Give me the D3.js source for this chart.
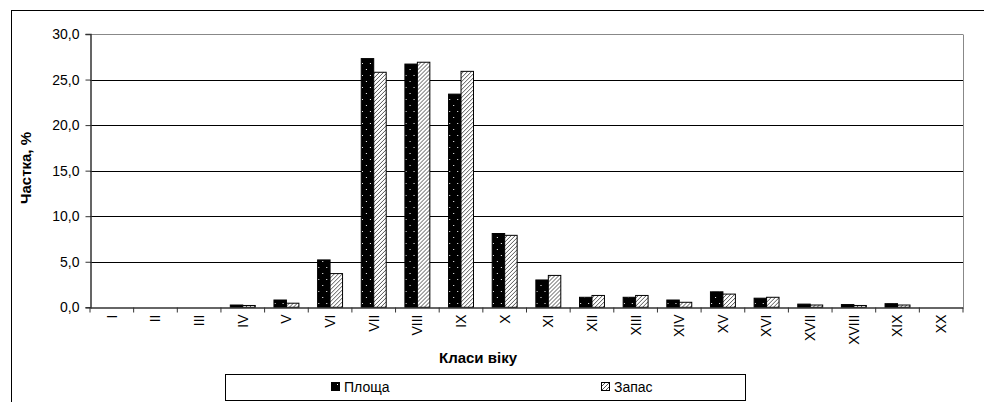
<!DOCTYPE html>
<meta charset="utf-8">
<style>
body { margin: 0; background: #fff; }
text { font-family: "Liberation Sans", Arial, sans-serif; fill: #000; }
.tick text { font-size: 14px; }
.axisTitle { font-size: 15px; font-weight: bold; }
.legendLabel { font-size: 14px; }
</style>
<body>
<script src="https://d3js.org/d3.v7.min.js"></script>
<script>

const classes = ["I", "II", "III", "IV", "V", "VI", "VII", "VIII", "IX", "X",
                 "XI", "XII", "XIII", "XIV", "XV", "XVI", "XVII", "XVIII", "XIX", "XX"];
const area  = [0, 0, 0, 0.25, 0.8, 5.2, 27.3, 26.7, 23.4, 8.1, 3.0, 1.1, 1.1, 0.8, 1.7, 1.0, 0.35, 0.3, 0.4, 0];
const stock = [0, 0, 0, 0.2, 0.45, 3.7, 25.8, 26.9, 25.9, 7.9, 3.5, 1.3, 1.3, 0.55, 1.45, 1.1, 0.25, 0.2, 0.25, 0];
const seriesNames = ["Площа", "Запас"];
const yTicks = [0, 5, 10, 15, 20, 25, 30];

let width = 984,
    height = 402,
    margin = {left: 90, top: 34, right: 963, bottom: 307.3};

let svg = d3.select("body").append("svg")
            .attr("width", width)
            .attr("height", height);

let defs = svg.append("defs");

// black with white dots
let dots = defs.append("pattern")
            .attr("id", "dots")
            .attr("patternUnits", "userSpaceOnUse")
            .attr("width", 8)
            .attr("height", 12);
dots.append("rect").attr("width", 8).attr("height", 12).attr("fill", "#000");
dots.append("rect").attr("x", 2).attr("y", 3).attr("width", 1).attr("height", 1).attr("fill", "#fff");
dots.append("rect").attr("x", 6).attr("y", 9).attr("width", 1).attr("height", 1).attr("fill", "#fff");

// white with diagonal lines
let hatch = defs.append("pattern")
            .attr("id", "hatch")
            .attr("patternUnits", "userSpaceOnUse")
            .attr("width", 4)
            .attr("height", 4);
hatch.append("rect").attr("width", 4).attr("height", 4).attr("fill", "#fff");
hatch.append("path")
        .attr("d", "M-1,1 l2,-2 M0,4 l4,-4 M3,5 l2,-2")
        .attr("stroke", "#555")
        .attr("stroke-width", 1);

const fills = ["url(#dots)", "url(#hatch)"];

// outer frame
svg.append("rect")
    .attr("x", 11.5).attr("y", 10.5)
    .attr("width", 1000).attr("height", 400)
    .attr("fill", "#fff")
    .attr("stroke", "#000");

let x = d3.scaleBand()
            .domain(classes)
            .range([margin.left, margin.right])
            .paddingInner(0)
            .paddingOuter(0);

let x1 = d3.scaleBand()
            .domain(d3.range(seriesNames.length))
            .range([0, x.bandwidth()])
            .paddingInner(0)
            .paddingOuter(0.75);

let y = d3.scaleLinear()
            .domain([0, 30])
            .range([margin.bottom, margin.top]);

// gridlines
svg.append("g")
    .selectAll("line")
    .data(yTicks.slice(1))
    .join("line")
        .attr("x1", margin.left).attr("x2", margin.right)
        .attr("y1", d => Math.round(y(d)) + 0.5)
        .attr("y2", d => Math.round(y(d)) + 0.5)
        .attr("stroke", d => d == 30 ? "#888" : "#000")
        .attr("stroke-width", 1);

// right border of plot
svg.append("line")
    .attr("x1", margin.right + 0.5).attr("x2", margin.right + 0.5)
    .attr("y1", Math.round(y(30)) + 0.5).attr("y2", margin.bottom)
    .attr("stroke", "#888");

// bars
let groups = svg.append("g")
    .selectAll("g")
    .data(classes.map((c, i) => ({c: c, v: [area[i], stock[i]]})))
    .join("g")
        .attr("transform", d => `translate(${x(d.c)},0)`);

groups.selectAll("rect")
    .data(d => d.v.map((v, k) => ({v: v, k: k})).filter(e => e.v > 0))
    .join("rect")
        .attr("x", d => x1(d.k))
        .attr("y", d => y(d.v))
        .attr("width", x1.bandwidth())
        .attr("height", d => y(0) - y(d.v))
        .attr("fill", d => fills[d.k])
        .attr("stroke", "#000")
        .attr("stroke-width", 1);

// y axis
let yAxis = svg.append("g")
    .attr("transform", `translate(${margin.left + 0.5},0)`)
    .call(d3.axisLeft(y).tickValues(yTicks).tickSize(5).tickPadding(6)
            .tickFormat(d => d3.format(".1f")(d).replace(".", ",")));
yAxis.select(".domain").attr("stroke", "#333").attr("stroke-width", 1.5);
yAxis.selectAll(".tick line").attr("stroke", "#333");

// x axis
let xAxis = svg.append("g")
    .attr("transform", `translate(0,${Math.round(y(0)) + 0.5})`)
    .call(d3.axisBottom(x).tickSize(0).tickSizeOuter(0));
xAxis.select(".domain").attr("stroke", "#333").attr("stroke-width", 1.5);
xAxis.selectAll(".tick text")
    .attr("transform", "rotate(-90)")
    .attr("text-anchor", "end")
    .attr("x", -7)
    .attr("y", 0)
    .attr("dy", "0.35em");

// category separators on x axis
xAxis.append("g")
    .selectAll("line")
    .data(classes.concat(["end"]))
    .join("line")
        .attr("x1", (d, i) => margin.left + i * x.bandwidth())
        .attr("x2", (d, i) => margin.left + i * x.bandwidth())
        .attr("y1", 0).attr("y2", 5)
        .attr("stroke", "#333");

// axis titles
svg.append("text")
    .attr("class", "axisTitle")
    .attr("x", 478)
    .attr("y", 358)
    .attr("dy", "0.35em")
    .attr("text-anchor", "middle")
    .text("Класи віку");

svg.append("text")
    .attr("class", "axisTitle")
    .attr("transform", "translate(26,168) rotate(-90)")
    .attr("text-anchor", "middle")
    .attr("dy", "0.35em")
    .text("Частка, %");

// legend
let legend_g = svg.append("g");
legend_g.append("rect")
    .attr("x", 225.5).attr("y", 374.5)
    .attr("width", 520).attr("height", 26)
    .attr("fill", "#fff")
    .attr("stroke", "#000");

const legendX = [331, 601];
let li = legend_g.selectAll("g")
    .data(seriesNames)
    .join("g")
        .attr("transform", (d, i) => `translate(${legendX[i]},387)`);

li.append("rect")
    .attr("x", 0.5).attr("y", -4.5)
    .attr("width", 8).attr("height", 8)
    .attr("fill", (d, i) => fills[i])
    .attr("stroke", "#000");

li.append("text")
    .attr("class", "legendLabel")
    .attr("x", 13)
    .attr("y", 0)
    .attr("dy", "0.35em")
    .text(d => d);

</script>
